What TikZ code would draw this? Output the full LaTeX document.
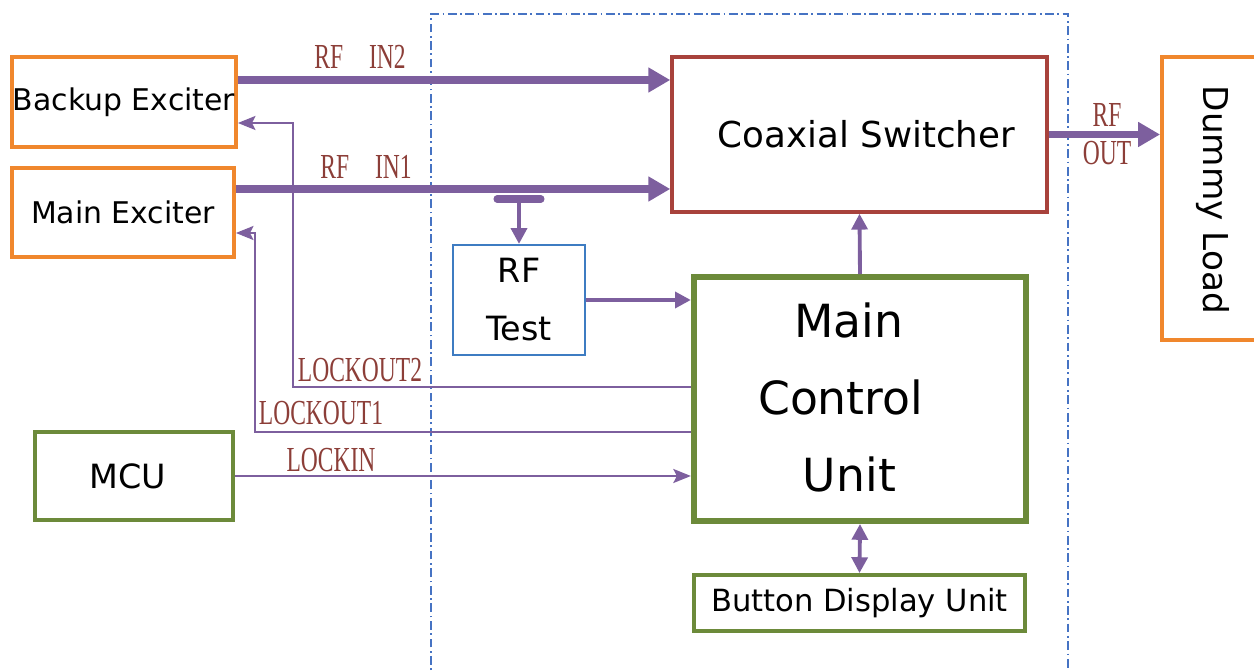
\documentclass[tikz,border=0pt]{standalone}
\usepackage{fontspec}
\setmainfont{DejaVu Sans}
\newfontfamily\sigfont{Liberation Serif}
\usepackage{graphicx}
\usetikzlibrary{arrows.meta}

\definecolor{exorange}{RGB}{240,135,45}
\definecolor{ctrlgreen}{RGB}{108,138,58}
\definecolor{coaxred}{RGB}{168,66,60}
\definecolor{testblue}{RGB}{62,124,194}
\definecolor{sigpurple}{RGB}{125,95,158}
\definecolor{sigbrown}{RGB}{140,62,56}
\definecolor{frameblue}{RGB}{70,115,195}

\newcommand{\siglabel}[1]{\scalebox{0.67}[1]{\sigfont\fontsize{20}{22}\selectfont #1}}

\begin{document}
\begin{tikzpicture}[x=0.02cm, y=-0.02cm,
	exbox/.style={draw=exorange, line width=2.2pt, inner xsep=0pt},
	greenbox/.style={draw=ctrlgreen, line width=2.2pt},
	rfline/.style={draw=sigpurple, line width=4pt, -{Triangle[length=12.5pt, width=13.5pt]}},
	midline/.style={draw=sigpurple, line width=2.2pt, -{Triangle[length=9pt, width=9pt]}},
	lockline/.style={draw=sigpurple, line width=1.1pt, -{Stealth[length=10pt, width=8pt, inset=2pt]}},
	siglbl/.style={text=sigbrown, inner sep=0pt}]

						\clip (0,0) rectangle (1254,671);

						\draw[frameblue, line width=0.8pt, dash pattern=on 5pt off 2pt on 1pt off 2pt] (431,700) |- (1068,14) -- (1068,700);

						\node[exbox, minimum width=4.48cm, minimum height=1.8cm, font=\fontsize{17}{20}\selectfont] (backup) at (124,102) {Backup Exciter};
						\node[exbox, minimum width=4.44cm, minimum height=1.78cm, font=\fontsize{17}{20}\selectfont] (mainex) at (123,212.5) {Main Exciter};
						\node[draw=coaxred, line width=2pt, minimum width=7.5cm, minimum height=3.1cm, font=\fontsize{20.3}{24}\selectfont] (coax) at (859.5,134.5) {\hspace{8pt}Coaxial Switcher};
						\node[exbox, minimum width=1.92cm, minimum height=5.66cm] (dummy) at (1210,198.5) {};
						\node[rotate=-90, font=\fontsize{19.5}{22}\selectfont] (dummytext) at (1213,200) {Dummy Load};
						\node[draw=testblue, line width=1.2pt, minimum width=2.64cm, minimum height=2.2cm, align=center, font=\fontsize{19}{33}\selectfont] (rftest) at (519,300) {RF\\Test};
						\node[draw=ctrlgreen, line width=3.6pt, minimum width=6.64cm, minimum height=4.84cm, font=\fontsize{26}{44}\selectfont] (ctrl) at (860,399) {\hspace*{-22pt}\begin{tabular}{@{}c@{}}\hspace*{9pt}Main\\Control\\\hspace*{10pt}Unit\end{tabular}};
						\node[greenbox, minimum width=3.96cm, minimum height=1.76cm, font=\fontsize{19}{22}\selectfont] (mcu) at (134,476) {\hspace{-7pt}MCU};
						\node[greenbox, minimum width=6.62cm, minimum height=1.12cm, font=\fontsize{17.4}{20}\selectfont] (button) at (859.5,603) {Button Display Unit};

						\draw[rfline] ([yshift=0.44cm]backup.east) -- ([yshift=0.44cm]backup.east -| coax.west);
						\draw[rfline] ([yshift=0.47cm]mainex.east) -- ([yshift=0.47cm]mainex.east -| coax.west);
						\draw[rfline] (coax.east) -- (coax.east -| dummy.west);

						\coordinate (tap) at (519,199);
						\draw[sigpurple, line width=4pt, line cap=round] (497,199) -- (541,199);
						\draw[midline] (tap) -- (rftest.north);
						\draw[midline] (rftest.east) -- (rftest.east -| ctrl.west);
						\draw[midline] (ctrl.north) -- (coax.south);
						\draw[midline, {Triangle[length=9pt, width=9pt]}-{Triangle[length=9pt, width=9pt]}] (ctrl.south) -- (button.north);

						\draw[lockline] (ctrl.west |- 0,387) -| (293,123) -- (backup.east |- 0,123);
						\draw[lockline] (ctrl.west |- 0,432) -| (255,233) -- (mainex.east |- 0,233);
						\draw[lockline] (mcu.east) -- (mcu.east -| ctrl.west);

						\node[siglbl] (in2lbl) at (360,57) {\siglabel{RF\hspace{1.1em}IN2}};
						\node[siglbl] (in1lbl) at (366,167) {\siglabel{RF\hspace{1.1em}IN1}};
						\node[siglbl] (out2lbl) at (360,370) {\siglabel{LOCKOUT2}};
						\node[siglbl] (out1lbl) at (321,413) {\siglabel{LOCKOUT1}};
						\node[siglbl] (inlbl) at (331,460) {\siglabel{LOCKIN}};
						\node[siglbl] (rflbl) at (1107,115) {\siglabel{RF}};
						\node[siglbl] (outlbl) at (1107,153) {\siglabel{OUT}};
					\end{tikzpicture}
\end{document}
